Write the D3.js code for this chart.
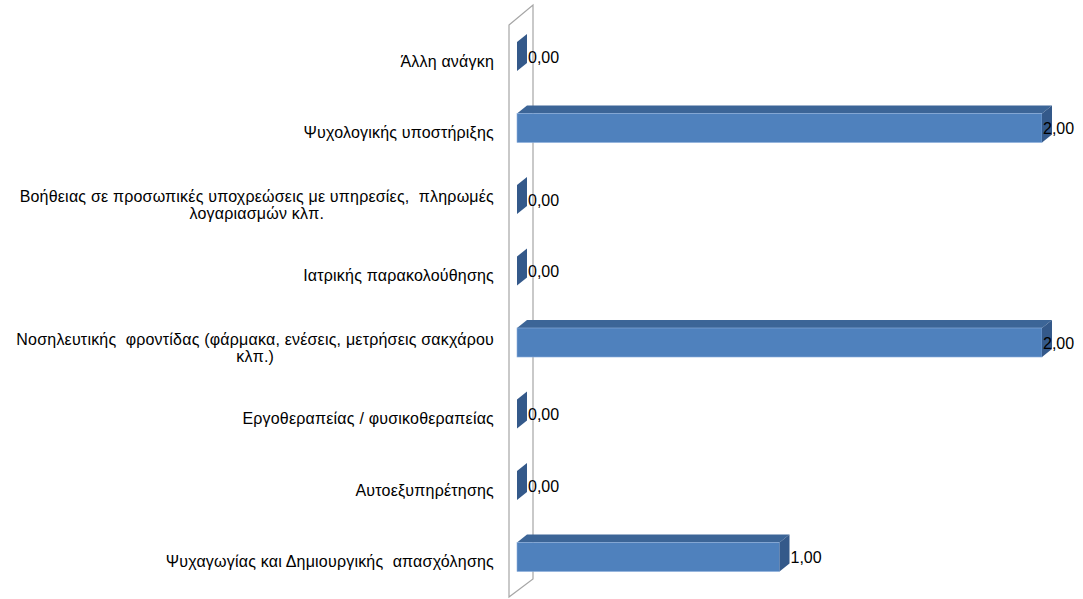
<!DOCTYPE html>
<html><head><meta charset="utf-8">
<script src="https://cdn.jsdelivr.net/npm/d3@7"></script>
<style>body{margin:0;background:#fff}svg{display:block}text{white-space:pre}</style>
</head><body>
<svg id="c" width="1083" height="599"></svg>
<script>
const categories = [
  ["Άλλη ανάγκη"],
  ["Ψυχολογικής υποστήριξης"],
  ["Βοήθειας σε προσωπικές υποχρεώσεις με υπηρεσίες,  πληρωμές", "λογαριασμών κλπ."],
  ["Ιατρικής παρακολούθησης"],
  ["Νοσηλευτικής  φροντίδας (φάρμακα, ενέσεις, μετρήσεις σακχάρου", "κλπ.)"],
  ["Εργοθεραπείας / φυσικοθεραπείας"],
  ["Αυτοεξυπηρέτησης"],
  ["Ψυχαγωγίας και Δημιουργικής  απασχόλησης"]
];
const values = [0, 2, 0, 0, 2, 0, 0, 1];
const valueLabels = ["0,00", "2,00", "0,00", "0,00", "2,00", "0,00", "0,00", "1,00"];

const W = 1083, H = 599;
const svg = d3.select("#c");
const font = "Liberation Sans, Arial, sans-serif";
const fs = 16;
const ls = 0.2;
const depthX = 10, depthY = -8;

const x = d3.scaleLinear().domain([0, 2]).range([517, 1042]);
const y = d3.scaleBand().domain(d3.range(categories.length))
  .range([20.75, 592.75]).paddingInner(0.594).paddingOuter(0.297);

// side wall
const wl = 509, wr = 533;
svg.append("path")
  .attr("d", `M${wl},25 L${wr},5 L${wr},579 L${wl},597 Z`)
  .attr("fill", "#fff").attr("stroke", "#a6a6a6").attr("stroke-width", 1.2);

const g = svg.append("g");
values.forEach((v, i) => {
  const x0 = x(0), x1 = x(v), y0 = y(i), bh = y.bandwidth();
  if (v > 0) {
    g.append("path")
      .attr("d", `M${x0},${y0} L${x0 + depthX},${y0 + depthY} L${x1 + depthX},${y0 + depthY} L${x1},${y0} Z`)
      .attr("fill", "#3c6597");
    g.append("rect").attr("x", x0).attr("y", y0).attr("width", x1 - x0).attr("height", bh)
      .attr("fill", "#4f81bd").attr("stroke", "#8eb0dc").attr("stroke-width", 0.6);
  }
  g.append("path")
    .attr("d", `M${x1},${y0} L${x1 + depthX},${y0 + depthY} L${x1 + depthX},${y0 + bh + depthY} L${x1},${y0 + bh} Z`)
    .attr("fill", "#34598a");
  const lx = Math.min(x1 + depthX + 1, W - 40);
  svg.append("text").attr("x", lx).attr("y", y0 + bh / 2 + 6)
    .attr("font-family", font).attr("font-size", fs).attr("fill", "#000")
    .text(valueLabels[i]);
});

categories.forEach((lines, i) => {
  const cy = y(i) + y.bandwidth() / 2;
  if (lines.length === 1) {
    svg.append("text").attr("x", 494).attr("y", cy + 10)
      .attr("text-anchor", "end").attr("font-family", font).attr("font-size", fs)
      .attr("letter-spacing", ls).attr("fill", "#000").text(lines[0]);
  } else {
    const t = svg.append("text").attr("font-family", font).attr("font-size", fs)
      .attr("letter-spacing", ls).attr("fill", "#000");
    const first = t.append("tspan").attr("x", 494).attr("y", cy + 2).attr("text-anchor", "end").text(lines[0]);
    const w = first.node().getComputedTextLength();
    t.append("tspan").attr("x", 494 - w / 2).attr("y", cy + 19).attr("text-anchor", "middle").text(lines[1]);
  }
});
</script>
</body></html>
